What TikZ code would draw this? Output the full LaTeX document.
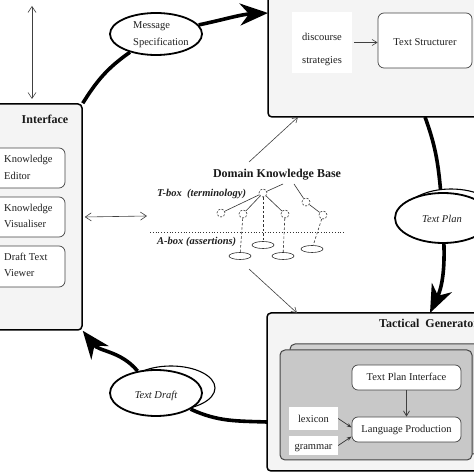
\documentclass[tikz,border=0pt]{standalone}
\usepackage{fontspec}
\setmainfont{Liberation Serif}
\usetikzlibrary{arrows.meta,shapes.geometric}
\definecolor{boxfill}{HTML}{F4F4F4}
\definecolor{grayfill}{HTML}{C8C8C8}
\definecolor{grayback}{HTML}{D0D0D0}
\definecolor{edge}{HTML}{444444}
\begin{document}
\begin{tikzpicture}[x=1pt,y=1pt,
  outerbox/.style={draw=black, line width=1.5pt, fill=boxfill, rounded corners=4pt, inner sep=0pt},
  innerbox/.style={draw=edge, line width=0.7pt, fill=white, rounded corners=6pt, inner sep=0pt},
  whitebox/.style={fill=white, inner sep=0pt},
  graybox/.style={draw=edge, line width=1pt, rounded corners=5pt, inner sep=0pt},
  txt/.style={font=\fontsize{10.5}{12}\selectfont, inner sep=0pt, anchor=base, text=black!88},
  txtl/.style={txt, anchor=base west},
  btxt/.style={font=\fontsize{12}{14}\bfseries\selectfont, inner sep=0pt, anchor=base, text=black!90},
  itxt/.style={txt, font=\fontsize{10.5}{12}\itshape\selectfont},
  bitxt/.style={txtl, font=\fontsize{10.5}{12}\bfseries\itshape\selectfont},
  oval/.style={ellipse, draw=black, line width=1.8pt, fill=white, inner sep=0pt},
  backoval/.style={ellipse, draw=black, line width=1.1pt, fill=white, inner sep=0pt},
  thickpath/.style={line width=3.6pt},
  bigarrow/.style={-{Stealth[length=28pt,width=22pt,inset=9pt]}},
  dblarr/.style={line width=0.6pt, draw=black!75, {Straight Barb[length=6pt,width=8pt]}-{Straight Barb[length=6pt,width=8pt]}},
  onearr/.style={line width=0.6pt, draw=black!75, -{Straight Barb[length=5pt,width=6pt]}},
  smallarr/.style={line width=0.7pt, draw=black!80, -{Stealth[length=5pt,width=3.5pt]}},
  concept/.style={circle, draw=black!80, dash pattern=on 2pt off 1.5pt, line width=0.6pt, minimum size=8pt, inner sep=0pt},
  inst/.style={ellipse, draw=black!80, line width=0.6pt, minimum width=22pt, minimum height=7pt, inner sep=0pt},
  treeline/.style={line width=0.6pt, draw=black!80},
  instline/.style={line width=0.6pt, draw=black!80, dash pattern=on 2.5pt off 2pt},
  dotline/.style={line width=0.6pt, draw=black!80, dash pattern=on 0.8pt off 2pt}
]
\useasboundingbox (0,0) rectangle (474,474);
\clip (0,0) rectangle (474,474);

% ---------- text planner box (top right)
\node[outerbox, minimum width=222pt, minimum height=133pt] (plan) at (379,423.5) {};
\node[whitebox, minimum width=60pt, minimum height=61pt] (disc) at (322,431.5) {};
\node[txt] (disc1) at (322,433.5) {discourse};
\node[txt] (disc2) at (322,410.5) {strategies};
\node[innerbox, minimum width=94pt, minimum height=55pt] (struct) at (425,433.5) {};
\node[txt] (structt) at (425,428.5) {Text Structurer};
\draw[onearr] ([xshift=2pt]disc.east) -- (disc.east -| struct.west);

% ---------- interface box (left)
\node[outerbox, minimum width=92pt, minimum height=226pt] (iface) at (36,257) {};
\node[btxt] (ifacet) at (45,350) {Interface};
\node[innerbox, minimum width=75pt, minimum height=40pt] (kedit) at (27.5,306) {};
\node[txtl] (kedit1) at (4,311.5) {Knowledge};
\node[txtl] (kedit2) at (4,294.5) {Editor};
\node[innerbox, minimum width=75pt, minimum height=40pt] (kvis) at (27.5,257) {};
\node[txtl] (kvis1) at (4,262.5) {Knowledge};
\node[txtl] (kvis2) at (4,246.5) {Visualiser};
\node[innerbox, minimum width=75pt, minimum height=41pt] (kview) at (27.5,207.5) {};
\node[txtl] (kview1) at (4,213.5) {Draft Text};
\node[txtl] (kview2) at (4,197.5) {Viewer};

% ---------- tactical generator box (bottom right)
\node[outerbox, minimum width=223pt, minimum height=158pt] (tac) at (378.5,82) {};
\node[btxt, anchor=base west] (tact) at (379,146) {Tactical\ \ Generator};
\node[graybox, fill=grayback, minimum width=200pt, minimum height=110pt] (tacback) at (390,75) {};
\node[graybox, fill=grayfill, minimum width=192pt, minimum height=110pt] (tacfront) at (376,69) {};
\node[innerbox, minimum width=109pt, minimum height=25pt] (tpi) at (406.5,96.5) {};
\node[txt] (tpit) at (406.5,93.5) {Text Plan Interface};
\node[innerbox, minimum width=109pt, minimum height=25pt] (lp) at (406.5,44.5) {};
\node[txt] (lpt) at (406.5,41.5) {Language Production};
\node[whitebox, minimum width=49pt, minimum height=23pt] (lex) at (313.5,55.5) {};
\node[txt] (lext) at (313.5,51.5) {lexicon};
\node[whitebox, minimum width=49pt, minimum height=19pt] (gram) at (313.5,28.5) {};
\node[txt] (gramt) at (313.5,24) {grammar};
\draw[onearr, line width=0.8pt] (tpi.south) -- (lp.north);
\draw[smallarr] (lex.east) -- ([yshift=2pt]lp.west);
\draw[smallarr] (gram.east) -- ([yshift=-7pt]lp.west);

% ---------- domain knowledge base
\node[btxt] (kbt) at (277,296) {Domain Knowledge Base};
\node[bitxt] (tbox) at (157,277.5) {T-box\ \ (terminology)};
\node[bitxt] (abox) at (157,229.5) {A-box (assertions)};
\coordinate (dl1) at (150,242);
\coordinate (dl2) at (345,242);
\draw[dotline] (dl1) -- (dl2);
\node[concept] (c0) at (263,281) {};
\node[concept] (c1) at (221,261) {};
\node[concept] (c2) at (243,260) {};
\node[concept] (c3) at (285,260) {};
\node[concept] (c4) at (306,272) {};
\node[concept] (c5) at (323,259) {};
\coordinate (k1) at (283,290);
\coordinate (k2) at (294,290);
\draw[treeline] (k1) -- (c0);
\draw[treeline] (k2) -- (c4);
\draw[treeline] (c0) -- (c1);
\draw[treeline] (c0) -- (c2);
\draw[treeline] (c0) -- (c3);
\draw[treeline] (c4) -- (c5);
\node[inst] (i1) at (240,218) {};
\node[inst] (i2) at (263,229) {};
\node[inst] (i3) at (283,218) {};
\node[inst] (i4) at (312,225) {};
\draw[instline] (c2) -- (i1);
\draw[instline] (c0) -- (i2);
\draw[instline] (c3) -- (i3);
\draw[instline] (c5) -- (i4);

% ---------- thin connectors
\coordinate (tl1) at (32,468);
\coordinate (tl2) at (32,375);
\draw[dblarr] (tl1) -- (tl2);
\coordinate (kbl) at (147,258);
\draw[dblarr] ([xshift=2pt]iface.east) -- (kbl);
\coordinate (kbtr) at (249,312);
\coordinate (planarr) at (298,357);
\draw[onearr] (kbtr) -- (planarr);
\coordinate (kbbr) at (249,205);
\coordinate (tacarr) at (297,161);
\draw[onearr] (kbbr) -- (tacarr);

% ---------- ellipse placeholders (for clipping of the cycle arcs)
\node[oval, minimum width=92pt, minimum height=42pt, draw=none, fill=none] (msg) at (156,440) {};
\node[oval, minimum width=96pt, minimum height=50pt, draw=none, fill=none] (tplan) at (443,256) {};
\node[oval, minimum width=92pt, minimum height=46pt, draw=none, fill=none] (tdraft) at (156,81) {};

% ---------- main cycle
\coordinate (planin) at (268,461);
\coordinate (planout) at (425,357);
\coordinate (tacin) at (430,161);
\coordinate (tacout) at (267,52);
\draw[thickpath] (iface.north east) to[out=58,in=215] (msg);
\draw[thickpath, bigarrow] (msg) to[out=12,in=183] (planin);
\draw[thickpath] (planout) to[out=-70,in=95] (tplan);
\draw[thickpath, bigarrow] (tplan) to[out=-88,in=65] (tacin);
\draw[thickpath] (tacout) to[out=178,in=-25] (tdraft);
\draw[thickpath, bigarrow] (tdraft) to[out=130,in=-52] (iface.south east);

% ---------- ellipses
\node[oval, minimum width=92pt, minimum height=42pt] (msgo) at (156,440) {};
\node[txtl] (msg1) at (133,445.5) {Message};
\node[txtl] (msg2) at (133,428.5) {Specification};
\node[backoval, minimum width=94pt, minimum height=50pt] (tplanb) at (451,260) {};
\node[oval, minimum width=96pt, minimum height=50pt] (tplano) at (443,256) {};
\node[itxt] (tplant) at (442,251.5) {Text Plan};
\node[backoval, minimum width=88pt, minimum height=44pt] (tdraftb) at (171,86) {};
\node[oval, minimum width=92pt, minimum height=46pt] (tdrafto) at (156,81) {};
\node[itxt] (tdraftt) at (156,75.5) {Text Draft};
\end{tikzpicture}
\end{document}
